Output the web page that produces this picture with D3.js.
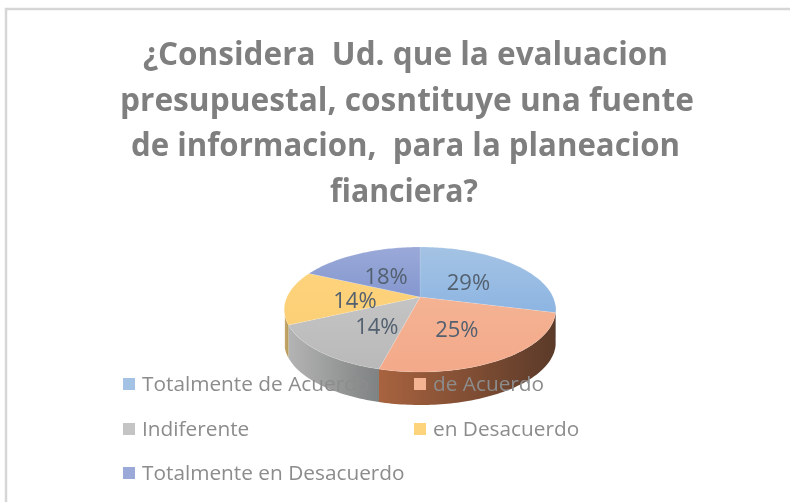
<!DOCTYPE html>
<html><head><meta charset="utf-8">
<script src="https://cdn.jsdelivr.net/npm/d3@7"></script>
<style>html,body{margin:0;padding:0;background:#fff}svg{display:block;filter:blur(.5px)}text{font-family:"Open Sans",sans-serif}</style>
</head><body><script>
const categories=["Totalmente de Acuerdo","de Acuerdo","Indiferente","en Desacuerdo","Totalmente en Desacuerdo"];
const values=[29,25,14,14,18];
const labels=["29%","25%","14%","14%","18%"];
const topTone=["#a4c3e4","#f4b393","#c4c4c4","#fdd37c","#9aa9d8"];
const lowTone=["#8db5e2","#f3a98a","#b9b9b9","#fbcf75","#8497cf"];
const wallA=["#5d7fa8","#a8633f","#b4b4b4","#c4a86a","#5f72a3"];
const wallB=["#5d7fa8","#5b3a29","#7f8282","#b89a5a","#5f72a3"];
const titleLines=["¿Considera  Ud. que la evaluacion","presupuestal, cosntituye una fuente","de informacion,  para la planeacion","fianciera?"];
const W=790,H=502,cx=420,cy=297,a=133,b=60,k=.2,depth=33;
const svg=d3.select("body").append("svg").attr("width",W).attr("height",H);
const defs=svg.append("defs");
svg.append("rect").attr("x",6).attr("y",9).attr("width",W+20).attr("height",H).attr("fill","#fff").attr("stroke","#d6d6d6").attr("stroke-width",2.5);
const pX=t=>cx+a*Math.sin(t)/(1+k*Math.cos(t));
const pY=t=>cy-b*Math.cos(t)/(1+k*Math.cos(t));
const arcs=d3.pie().sort(null).value(d=>d)(values);
const line=d3.line();
const samples=(s,e)=>{const n=Math.max(2,Math.ceil((e-s)/.02));return d3.range(n+1).map(i=>s+(e-s)*i/n)};
const pi=Math.PI;
const gs=svg.append("g");
const visS=pi/2+.12,visE=4.42;
arcs.forEach((d,i)=>{
 const s=Math.max(d.startAngle,visS),e=Math.min(d.endAngle,visE);
 if(e<=s)return;
 const ts=samples(s,e);
 const pts=ts.map(t=>[pX(t),pY(t)]).concat(ts.slice().reverse().map(t=>[pX(t),pY(t)+depth]));
 const id="w"+i,xs=pts.map(p=>p[0]);
 const g=defs.append("linearGradient").attr("id",id).attr("gradientUnits","userSpaceOnUse").attr("x1",d3.min(xs)).attr("x2",d3.max(xs)).attr("y1",0).attr("y2",0);
 g.append("stop").attr("offset",0).attr("stop-color",wallA[i]);
 g.append("stop").attr("offset",1).attr("stop-color",wallB[i]);
 gs.append("path").attr("d",line(pts)+"Z").attr("fill",`url(#${id})`);
});
const gt=svg.append("g");
arcs.forEach((d,i)=>{
 const pts=[[cx,cy]].concat(samples(d.startAngle,d.endAngle).map(t=>[pX(t),pY(t)]));
 const id="t"+i,ys=pts.map(p=>p[1]);
 const g=defs.append("linearGradient").attr("id",id).attr("gradientUnits","userSpaceOnUse").attr("x1",0).attr("x2",0).attr("y1",d3.min(ys)).attr("y2",d3.max(ys));
 g.append("stop").attr("offset",0).attr("stop-color",topTone[i]);
 g.append("stop").attr("offset",1).attr("stop-color",lowTone[i]);
 gt.append("path").attr("d",line(pts)+"Z").attr("fill",`url(#${id})`).attr("stroke","#fff").attr("stroke-opacity",.25).attr("stroke-width",.5);
});
const radial=[.72,.72,.62,.73,.72],nudge=[[-19,9],[-22,-13],[19,-5],[32,3],[10,10]];
arcs.forEach((d,i)=>{
 const m=(d.startAngle+d.endAngle)/2;
 svg.append("text").attr("x",cx+(pX(m)-cx)*radial[i]+nudge[i][0]).attr("y",cy+(pY(m)-cy)*radial[i]+nudge[i][1]).attr("dy",".36em")
  .attr("text-anchor","middle").attr("font-size",22).attr("fill","#53606f").text(labels[i]);
});
const titleY=d3.scaleLinear().domain([0,3]).range([65,202]);
const titleX=[405.5,407,405.5,404],titleW=[525,574,549,148];
titleLines.forEach((t,i)=>svg.append("text").style("white-space","pre").attr("x",titleX[i]).attr("y",titleY(i))
 .attr("text-anchor","middle").attr("font-size",31.5).attr("font-weight",700).attr("fill","#7f7f7f")
 .attr("textLength",titleW[i]).attr("lengthAdjust","spacingAndGlyphs").text(t));
const colX=[123,414],rowY=[384,429,473];
categories.forEach((c,i)=>{
 const x=colX[i%2],y=rowY[Math.floor(i/2)];
 svg.append("rect").attr("x",x).attr("y",y-6).attr("width",12).attr("height",12).attr("fill",topTone[i]);
 svg.append("text").attr("x",x+19).attr("y",y+7).attr("font-size",20.8).attr("fill","#8c8c8c").text(c);
});
</script></body></html>
